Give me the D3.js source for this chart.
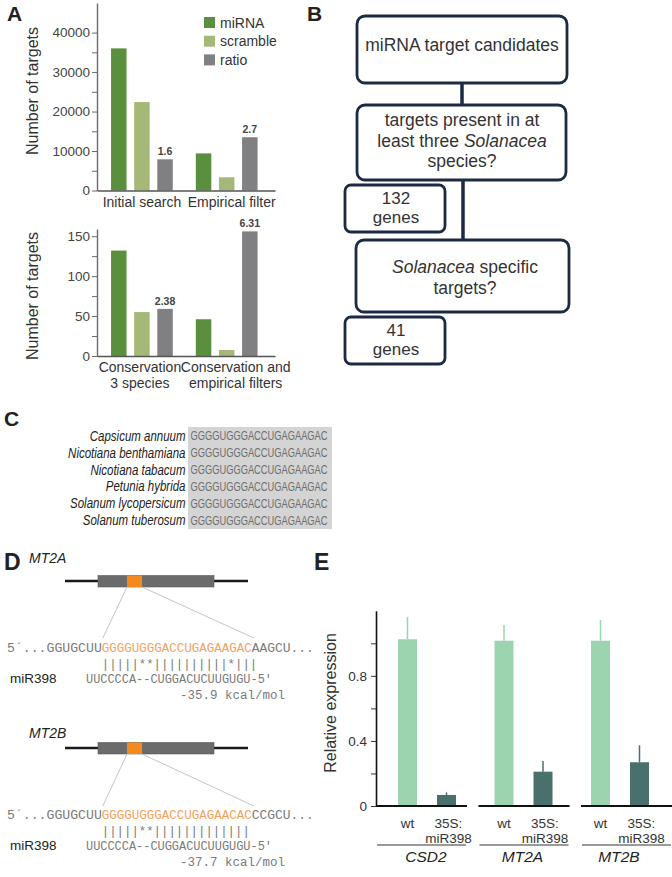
<!DOCTYPE html>
<html><head><meta charset="utf-8">
<script src="https://cdn.jsdelivr.net/npm/d3@7"></script>
<style>
body{margin:0;background:#fff}
svg{display:block}
text{font-family:"Liberation Sans",Arial,sans-serif}
.mono{font-family:"Liberation Mono","DejaVu Sans Mono",monospace}
</style>
</head><body>
<svg id="c" width="672" height="877"></svg>
<script>
// ---------------- DATA ----------------
// Panel A
const seriesNames = ["miRNA", "scramble", "ratio"];
const groupsTop = ["Initial search", "Empirical filter"];
const miRNATop = [36000, 9400];
const scrambleTop = [22400, 3350];
const ratioTop = [7900, 13500];
const ratioLabelTop = ["1.6", "2.7"];
const ticksTop = [0, 5000, 10000, 15000, 20000, 25000, 30000, 35000, 40000];

const groupsBottom = [["Conservation", "3 species"], ["Conservation and", "empirical filters"]];
const miRNABottom = [132, 46];
const scrambleBottom = [55, 7.5];
const ratioBottom = [59, 156];
const ratioLabelBottom = ["2.38", "6.31"];
const ticksBottom = [0, 25, 50, 75, 100, 125, 150];

// Panel B
const flowQuestions = [
  [["miRNA target candidates"]],
  [["targets present in at"], ["least three ", ["Solanacea"]], ["species?"]],
  [[["Solanacea"], " specific"], ["targets?"]]
];
const flowResults = [["132", "genes"], ["41", "genes"]];

// Panel C
const species = ["Capsicum annuum", "Nicotiana benthamiana", "Nicotiana tabacum",
  "Petunia hybrida", "Solanum lycopersicum", "Solanum tuberosum"];
const speciesSeq = ["GGGGUGGGACCUGAGAAGAC", "GGGGUGGGACCUGAGAAGAC", "GGGGUGGGACCUGAGAAGAC",
  "GGGGUGGGACCUGAGAAGAC", "GGGGUGGGACCUGAGAAGAC", "GGGGUGGGACCUGAGAAGAC"];

// Panel D
const targetGenes = ["MT2A", "MT2B"];
const target5 = ["5´...GGUGCUU", "5´...GGUGCUU"];
const targetSite = ["GGGGUGGGACCUGAGAAGAC", "GGGGUGGGACCUGAGAACAC"];
const target3 = ["AAGCU...", "CCGCU..."];
const pairing = ["|||||**||||||||||*|||", "|||||**|||||||||||||"];
const mirName = "miR398";
const mirSeq = ["UUCCCCA--CUGGACUCUUGUGU-5'", "UUCCCCA--CUGGACUCUUGUGU-5'"];
const energies = ["-35.9 kcal/mol", "-37.7 kcal/mol"];

// Panel E
const genesE = ["CSD2", "MT2A", "MT2B"];
const conditions = ["wt", "35S:miR398"];
const wtMean = [1.025, 1.016, 1.016];
const wtErr = [0.138, 0.096, 0.127];
const oxMean = [0.068, 0.211, 0.269];
const oxErr = [0.016, 0.066, 0.104];
const ticksE = [0, 0.2, 0.4, 0.6, 0.8, 1.0];
const tickLabelsE = ["0", "", "0.4", "", "0.8", ""];

// ---------------- DRAW ----------------
const svg = d3.select("#c");
const colors = {miRNA: "#5a8f3d", scramble: "#a6b877", ratio: "#808083"};
const txt = "#333";

function panelLabel(t, x, y, size) {
  svg.append("text").attr("x", x).attr("y", y).text(t)
    .attr("font-size", size).attr("font-weight", "bold").attr("fill", "#222");
}
panelLabel("A", 7, 21, 21);
panelLabel("B", 307, 21, 21);
panelLabel("C", 4, 426, 21);
panelLabel("D", 4, 570, 23);
panelLabel("E", 314, 570, 23);

// ---- Panel A ----
function barChart(opts) {
  const g = svg.append("g");
  const y = d3.scaleLinear().domain(opts.domain).range(opts.yRange);
  const x0 = d3.scaleBand().domain(d3.range(opts.groups.length)).range([97, 275])
    .paddingInner(0).paddingOuter(0.05).align(0.3);
  const x1 = d3.scaleBand().domain(seriesNames).range([-38.5, 38.5]).padding(0.33);
  const rows = opts.groups.map((gname, i) => ({i, vals: [
    {k: "miRNA", v: opts.miRNA[i]}, {k: "scramble", v: opts.scramble[i]}, {k: "ratio", v: opts.ratio[i]}]}));
  const gg = g.selectAll("g.grp").data(rows).join("g")
    .attr("transform", d => `translate(${x0(d.i) + x0.bandwidth() / 2},0)`);
  gg.selectAll("rect").data(d => d.vals).join("rect")
    .attr("x", d => x1(d.k)).attr("width", x1.bandwidth())
    .attr("y", d => y(d.v)).attr("height", d => y(0) - y(d.v))
    .attr("fill", d => colors[d.k]);
  gg.append("text").attr("x", x1("ratio") + x1.bandwidth() / 2)
    .attr("y", d => y(d.vals[2].v) - 4).attr("text-anchor", "middle")
    .attr("font-size", 10.5).attr("font-weight", "bold").attr("fill", "#444")
    .text(d => opts.ratioLabels[d.i]);
  // y axis
  const ax = g.append("g").attr("transform", "translate(97,0)")
    .call(d3.axisLeft(y).tickValues(opts.ticks).tickSize(5).tickSizeOuter(0).tickPadding(2)
      .tickFormat(d => opts.labelIf(d) ? d : ""));
  ax.select(".domain").attr("stroke", "#6a6a6a").attr("stroke-width", 1.4);
  ax.selectAll(".tick line").attr("stroke", "#6a6a6a").attr("stroke-width", 1);
  ax.selectAll(".tick text").attr("font-size", 13.5).attr("fill", "#444")
    .attr("font-family", "Liberation Sans, Arial, sans-serif");
  // x axis
  const axb = g.append("g").attr("transform", `translate(0,${y(0)})`)
    .call(d3.axisBottom(x0).tickSize(0).tickSizeOuter(0).tickFormat(""));
  axb.select(".domain").attr("stroke", "#555").attr("stroke-width", 1.5);
  // x labels
  rows.forEach(r => {
    const lines = [].concat(opts.groups[r.i]);
    const t = g.append("text").attr("text-anchor", "middle").attr("font-size", 14).attr("fill", txt);
    lines.forEach((l, j) => t.append("tspan")
      .attr("x", x0(r.i) + x0.bandwidth() / 2 + opts.labelShift[r.i])
      .attr("y", y(0) + 16 + j * 16).text(l));
  });
  // y title
  g.append("text").attr("transform", `translate(38,${opts.titleY}) rotate(-90)`)
    .attr("text-anchor", "middle").attr("font-size", 16).attr("fill", txt).text("Number of targets");
}
barChart({domain: [0, 47500], yRange: [190.5, 3], groups: groupsTop, miRNA: miRNATop,
  scramble: scrambleTop, ratio: ratioTop, ratioLabels: ratioLabelTop, ticks: ticksTop,
  labelIf: d => d % 10000 === 0, titleY: 91, labelShift: [0, 5]});
barChart({domain: [0, 159], yRange: [356, 229], groups: groupsBottom, miRNA: miRNABottom,
  scramble: scrambleBottom, ratio: ratioBottom, ratioLabels: ratioLabelBottom, ticks: ticksBottom,
  labelIf: d => d % 50 === 0, titleY: 296, labelShift: [-2, 9]});

// legend
const leg = svg.append("g").selectAll("g").data(seriesNames).join("g")
  .attr("transform", (d, i) => `translate(204,${17 + i * 18.7})`);
leg.append("rect").attr("width", 11).attr("height", 11).attr("fill", d => colors[d]);
leg.append("text").attr("x", 16).attr("y", 10.5).attr("font-size", 14).attr("fill", txt).text(d => d);

// ---- Panel B ----
const navy = "#1d2a43";
const qBoxes = [
  {x: 357, y: 16, w: 210, h: 67, cx: 462, by: 51},
  {x: 357, y: 105, w: 209, h: 75, cx: 462, by: 126},
  {x: 356, y: 240, w: 213, h: 72, cx: 465, by: 273}
];
const rBoxes = [{x: 345, y: 185, w: 100, h: 47}, {x: 345, y: 317, w: 100, h: 47}];
const gb = svg.append("g");
gb.append("line").attr("x1", 462).attr("x2", 462).attr("y1", 83).attr("y2", 105)
  .attr("stroke", navy).attr("stroke-width", 3.5);
gb.append("line").attr("x1", 463).attr("x2", 463).attr("y1", 180).attr("y2", 240)
  .attr("stroke", navy).attr("stroke-width", 3.5);
flowQuestions.forEach((lines, i) => {
  const b = qBoxes[i];
  gb.append("rect").attr("x", b.x).attr("y", b.y).attr("width", b.w).attr("height", b.h)
    .attr("rx", 8).attr("fill", "#fff").attr("stroke", navy).attr("stroke-width", 2.8);
  lines.forEach((parts, j) => {
    const t = gb.append("text").attr("x", b.cx).attr("y", b.by + j * 20.5)
      .attr("text-anchor", "middle").attr("font-size", 17.5).attr("fill", txt);
    parts.forEach(p => {
      if (Array.isArray(p)) t.append("tspan").attr("font-style", "italic").text(p[0]);
      else t.append("tspan").text(p);
    });
  });
});
flowResults.forEach((lines, i) => {
  const b = rBoxes[i];
  gb.append("rect").attr("x", b.x).attr("y", b.y).attr("width", b.w).attr("height", b.h)
    .attr("rx", 6).attr("fill", "#fff").attr("stroke", navy).attr("stroke-width", 2.8);
  lines.forEach((l, j) => gb.append("text").attr("x", b.x + 51).attr("y", b.y + 19 + j * 19)
    .attr("text-anchor", "middle").attr("font-size", 17).attr("fill", txt).text(l));
});

// ---- Panel C ----
const gc = svg.append("g");
const yc = d3.scaleBand().domain(d3.range(species.length)).range([427, 529]).padding(0.02);
gc.append("rect").attr("x", 188).attr("y", 427).attr("width", 144).attr("height", 102).attr("fill", "#d4d4d4");
species.forEach((s, i) => {
  const cy = yc(i) + yc.bandwidth() / 2;
  gc.append("g").attr("transform", `translate(185.5,${cy + 5}) scale(0.82,1)`)
    .append("text").attr("text-anchor", "end")
    .attr("font-size", 14).attr("font-style", "italic").attr("fill", "#222").text(s);
  gc.append("g").attr("transform", `translate(190.5,${cy + 4.5}) scale(0.745,1)`)
    .append("text").attr("font-size", 12.5).attr("fill", "#6e6e6e").text(speciesSeq[i]);
});

// ---- Panel D ----
const gd = svg.append("g");
const dLayout = [
  {label: 558, line: 581, diag: 638, seq: 647, pair: 663, mir: 678, en: 694},
  {label: 733, line: 748, diag: 806, seq: 814, pair: 830, mir: 845, en: 861}
];
const cw = 7.5;
targetGenes.forEach((gname, i) => {
  const L = dLayout[i];
  gd.append("text").attr("x", 29).attr("y", L.label + 5).attr("font-size", 14)
    .attr("font-style", "italic").attr("fill", "#222").text(gname);
  gd.append("line").attr("x1", 65).attr("x2", 248).attr("y1", L.line).attr("y2", L.line)
    .attr("stroke", "#1a1a1a").attr("stroke-width", 2.5);
  gd.append("rect").attr("x", 98).attr("y", L.line - 5.5).attr("width", 116).attr("height", 11.5)
    .attr("fill", "#6b6b6b").attr("stroke", "#5a5a5a").attr("stroke-width", 0.6);
  gd.append("rect").attr("x", 127).attr("y", L.line - 5.5).attr("width", 15).attr("height", 11.5)
    .attr("fill", "#f4891f");
  const x5 = 7, xs = x5 + target5[i].length * 7.9, xe = xs + targetSite[i].length * cw;
  gd.append("line").attr("x1", 127).attr("y1", L.line + 6).attr("x2", xs + 1).attr("y2", L.diag)
    .attr("stroke", "#c4c4c4").attr("stroke-width", 1);
  gd.append("line").attr("x1", 142).attr("y1", L.line + 6).attr("x2", xe + 2).attr("y2", L.diag)
    .attr("stroke", "#c4c4c4").attr("stroke-width", 1);
  const seqY = L.seq + 4.5;
  gd.append("text").attr("class", "mono").attr("x", x5).attr("y", seqY).attr("font-size", 12.5)
    .attr("fill", "#7a7a7a").attr("textLength", target5[i].length * 7.9).attr("lengthAdjust", "spacingAndGlyphs").text(target5[i]);
  gd.append("text").attr("class", "mono").attr("x", xs).attr("y", seqY).attr("font-size", 12.5)
    .attr("fill", "#f5a25c").attr("textLength", targetSite[i].length * cw).attr("lengthAdjust", "spacingAndGlyphs").text(targetSite[i]);
  gd.append("text").attr("class", "mono").attr("x", xe).attr("y", seqY).attr("font-size", 12.5)
    .attr("fill", "#7a7a7a").attr("textLength", target3[i].length * 7.75).attr("lengthAdjust", "spacingAndGlyphs").text(target3[i]);
  gd.append("text").attr("class", "mono").attr("x", xs).attr("y", L.pair + 4.5).attr("font-size", 12.5)
    .attr("fill", "#7a7a7a").attr("textLength", pairing[i].length * 7.4).attr("lengthAdjust", "spacingAndGlyphs").text(pairing[i]);
  gd.append("text").attr("x", 10).attr("y", L.mir + 5).attr("font-size", 13.5).attr("fill", "#222").text(mirName);
  gd.append("text").attr("class", "mono").attr("x", 86).attr("y", L.mir + 4.5).attr("font-size", 12.5)
    .attr("fill", "#7a7a7a").attr("textLength", 186).attr("lengthAdjust", "spacingAndGlyphs").text(mirSeq[i]);
  gd.append("text").attr("class", "mono").attr("x", 180).attr("y", L.en + 4.5).attr("font-size", 12.5)
    .attr("fill", "#7a7a7a").attr("textLength", 105).attr("lengthAdjust", "spacingAndGlyphs").text(energies[i]);
});

// ---- Panel E ----
const ge = svg.append("g");
const yE = d3.scaleLinear().domain([0, 1.2]).range([806, 610.8]);
// baseline segments per gene
const xg = d3.scaleBand().domain(genesE).range([376, 672]).paddingInner(0.112).paddingOuter(0);
// bar groups per gene
const xb = d3.scaleBand().domain(genesE).range([378.75, 668.25]).paddingInner(0);
const xc = d3.scaleBand().domain(conditions).range([-29, 29]).paddingInner(0.5128).paddingOuter(0);
const condColor = {"wt": "#9bd4af", "35S:miR398": "#4a706b"};
const barsE = [];
genesE.forEach((g, i) => {
  barsE.push({g, c: "wt", m: wtMean[i], e: wtErr[i]});
  barsE.push({g, c: "35S:miR398", m: oxMean[i], e: oxErr[i]});
});
const bx = d => xb(d.g) + xb.bandwidth() / 2 + xc(d.c);
ge.selectAll("line.err").data(barsE).join("line").attr("class", "err")
  .attr("x1", d => bx(d) + xc.bandwidth() / 2).attr("x2", d => bx(d) + xc.bandwidth() / 2)
  .attr("y1", d => yE(d.m)).attr("y2", d => yE(d.m + d.e))
  .attr("stroke", d => condColor[d.c]).attr("stroke-width", 1.5);
ge.selectAll("rect.bar").data(barsE).join("rect").attr("class", "bar")
  .attr("x", d => bx(d)).attr("width", xc.bandwidth())
  .attr("y", d => yE(d.m)).attr("height", d => yE(0) - yE(d.m)).attr("fill", d => condColor[d.c]);
const axE = ge.append("g").attr("transform", "translate(376,0)")
  .call(d3.axisLeft(yE).tickValues(ticksE).tickSize(5).tickSizeOuter(0).tickPadding(4)
    .tickFormat((d, i) => tickLabelsE[i]));
axE.select(".domain").attr("stroke", "#111").attr("stroke-width", 1.6);
axE.selectAll(".tick line").attr("stroke", "#333");
axE.selectAll(".tick text").attr("font-size", 13.5).attr("fill", txt)
  .attr("font-family", "Liberation Sans, Arial, sans-serif");
genesE.forEach(g => {
  const x = xg(g);
  ge.append("line").attr("x1", x).attr("x2", x + xg.bandwidth()).attr("y1", 806).attr("y2", 806)
    .attr("stroke", "#111").attr("stroke-width", 2);
  ge.append("line").attr("x1", x + 1).attr("x2", x + xg.bandwidth() - 1).attr("y1", 845).attr("y2", 845)
    .attr("stroke", "#9a9a9a").attr("stroke-width", 2);
  conditions.forEach(c => {
    const cx = bx({g, c}) + xc.bandwidth() / 2;
    const parts = c === "wt" ? ["wt"] : ["35S:", "miR398"];
    const t = ge.append("text").attr("text-anchor", "middle").attr("font-size", 13.5).attr("fill", txt);
    parts.forEach((p, j) => t.append("tspan").attr("x", cx + (parts.length > 1 ? 2 : 0))
      .attr("y", 828 + j * 14.5).text(p));
  });
  ge.append("text").attr("x", xb(g) + xb.bandwidth() / 2 - 1).attr("y", 862).attr("text-anchor", "middle")
    .attr("font-size", 15.5).attr("font-style", "italic").attr("fill", "#222").text(g);
});
ge.append("text").attr("transform", "translate(336,703) rotate(-90)").attr("text-anchor", "middle")
  .attr("font-size", 16).attr("fill", txt).text("Relative expression");
</script>
</body></html>
